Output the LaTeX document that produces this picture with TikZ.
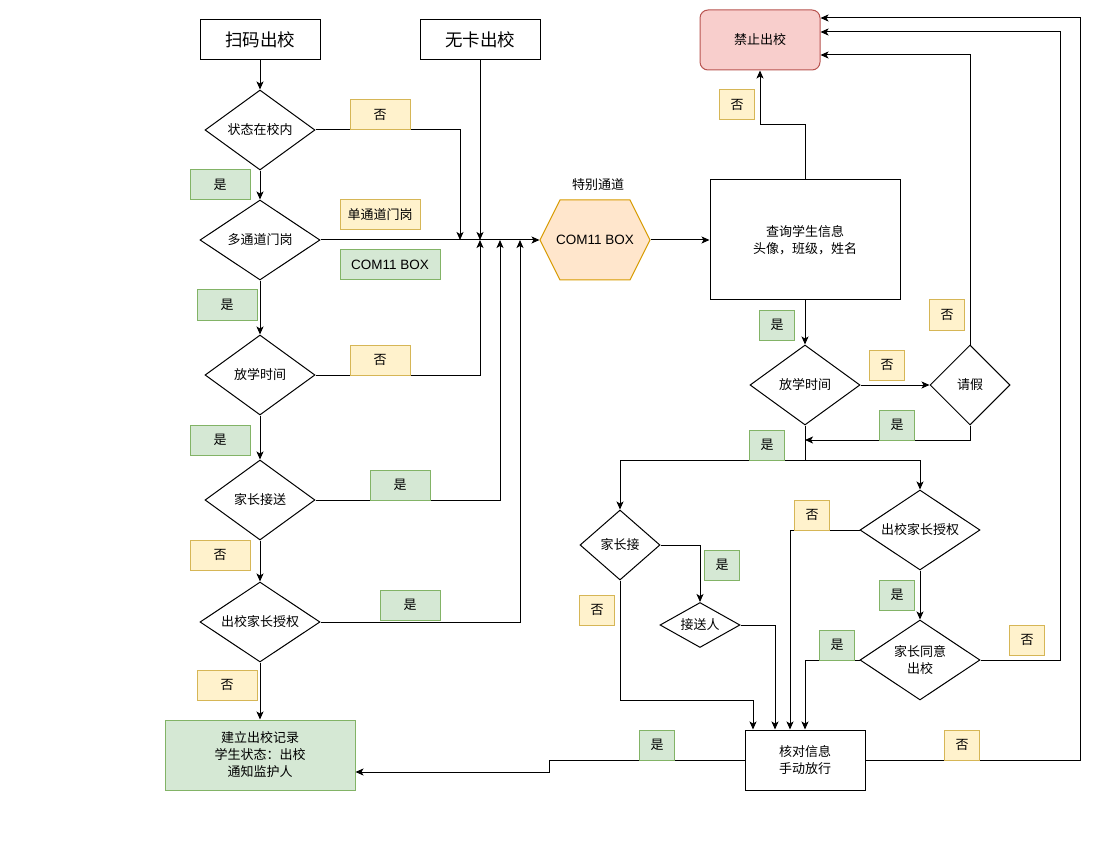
\documentclass[tikz,border=0pt]{standalone}
\usepackage{fontspec}
\setmainfont{Noto Sans CJK SC}
\newfontfamily\latinfont{Liberation Sans}
\usetikzlibrary{shapes.geometric,arrows.meta}
\definecolor{yfill}{HTML}{FFF2CC}
\definecolor{ydraw}{HTML}{D6B656}
\definecolor{gfill}{HTML}{D5E8D4}
\definecolor{gdraw}{HTML}{82B366}
\definecolor{ofill}{HTML}{FFE6CC}
\definecolor{odraw}{HTML}{D79B00}
\definecolor{rfill}{HTML}{F8CECC}
\definecolor{rdraw}{HTML}{B85450}
\begin{document}
\begin{tikzpicture}[x=1pt,y=-1pt,line width=1pt,
  every node/.style={font=\fontsize{13}{17}\selectfont,align=center,inner sep=0pt},
  proc/.style={draw,fill=white},
  dec/.style={draw,fill=white,diamond,shape aspect=1.5,inner sep=0pt},
  ylab/.style={draw=ydraw,fill=yfill,minimum height=30pt},
  glab/.style={draw=gdraw,fill=gfill,minimum height=30pt},
  arr/.style={-{Stealth[length=8pt,width=7pt,inset=2pt]}},
  big/.style={font=\fontsize{17.5}{20}\selectfont},
  latin/.style={font=\fontsize{13.5}{17}\latinfont}]
\useasboundingbox (0,0) rectangle (1100,850);

% left column
\node[proc,big,minimum width=120pt,minimum height=40pt] (scan) at (260,40) {扫码出校};
\node[proc,big,minimum width=120pt,minimum height=40pt] (nocard) at (480,40) {无卡出校};
\node[dec,minimum width=110pt,minimum height=80pt] (d1) at (260,130) {状态在校内};
\node[dec,minimum width=120pt,minimum height=80pt] (d2) at (260,240) {多通道门岗};
\node[dec,minimum width=110pt,minimum height=80pt] (d3) at (260,375) {放学时间};
\node[dec,minimum width=110pt,minimum height=80pt] (d4) at (260,500) {家长接送};
\node[dec,minimum width=120pt,minimum height=80pt] (d5) at (260,622) {出校家长授权};
\node[draw=gdraw,fill=gfill,minimum width=190pt,minimum height=70pt] (rec) at (260,755) {建立出校记录\\学生状态：出校\\通知监护人};

% hexagon
\node[minimum width=110pt,minimum height=80pt] (hex) at (595,240) {};
\draw[draw=odraw,fill=ofill] (540,240) -- (560,200) -- (630,200) -- (650,240) -- (630,280) -- (560,280) -- cycle;
\node[latin] (hextext) at (595,240) {COM11 BOX};
\node (hexlab) at (598,185) {特别通道};

% right part
\node[proc,minimum width=190pt,minimum height=120pt] (query) at (805,240) {查询学生信息\\头像，班级，姓名};
\node[draw=rdraw,fill=rfill,rounded corners=8pt,minimum width=120pt,minimum height=60pt] (forbid) at (760,40) {禁止出校};
\node[dec,minimum width=110pt,minimum height=80pt] (d6) at (805,385) {放学时间};
\node[dec,minimum width=80pt,minimum height=80pt] (leave) at (970,385) {请假};
\node[dec,minimum width=80pt,minimum height=70pt] (d7) at (620,545) {家长接};
\node[dec,minimum width=80pt,minimum height=45pt] (d8) at (700,625) {接送人};
\node[dec,minimum width=120pt,minimum height=80pt] (d9) at (920,530) {出校家长授权};
\node[dec,minimum width=120pt,minimum height=80pt] (d10) at (920,660) {家长同意\\出校};
\node[proc,minimum width=120pt,minimum height=60pt] (check) at (805,760) {核对信息\\手动放行};

% junction coordinates
\coordinate (j1) at (460,240);
\coordinate (j2) at (480,240);
\coordinate (j3) at (500,240);
\coordinate (j4) at (520,240);
\coordinate (j5) at (805,440);
\coordinate (j6) at (805,460);

% connectors left
\draw[arr] (scan) -- (d1);
\draw[arr] (d1) -- (d2);
\draw[arr] (d1.east) -| (j1);
\draw[arr] (nocard) -- (j2);
\draw[arr] (d2.east) -- (hex.west);
\draw[arr] (d2) -- (d3);
\draw[arr] (d3.east) -| (j2);
\draw[arr] (d3) -- (d4);
\draw[arr] (d4.east) -| (j3);
\draw[arr] (d4) -- (d5);
\draw[arr] (d5.east) -| (j4);
\draw[arr] (d5) -- (rec);

% connectors right
\draw[arr] (hex.east) -- (query.west);
\draw[arr] (query.north) -- ++(0,-55) -| (forbid.south);
\draw[arr] (query) -- (d6);
\draw[arr] (d6) -- (leave);
\draw[arr] (leave.north) |- ([yshift=-15pt]forbid.east);
\draw[arr] (leave.south) |- (j5);
\draw (d6.south) -- (j6);
\draw[arr] (j6) -| (d7.north);
\draw[arr] (j6) -| (d9.north);
\draw[arr] (d7.east) -| (d8.north);
\draw[arr] (d8.east) -| ([xshift=-30pt]check.north);
\draw[arr] (d7.south) -- ++(0,120) -| ([xshift=-52pt]check.north);
\draw[arr] (d9.west) -| ([xshift=-15pt]check.north);
\draw[arr] (d9) -- (d10);
\draw[arr] (d10.west) -| (check.north);
\draw[arr] (d10.east) -- ++(80,0) |- ([yshift=8pt]forbid.east);
\draw[arr] (check.east) -- ++(215,0) |- ([yshift=22pt]forbid.east);
\draw[arr] (check.west) -- ++(-195,0) |- ([yshift=-17pt]rec.east);

% labels left
\node[ylab,minimum width=60pt] (l1) at (380,115) {否};
\node[glab,minimum width=60pt] (l2) at (220,185) {是};
\node[ylab,minimum width=80pt] (l3) at (380,215) {单通道门岗};
\node[glab,latin,minimum width=100pt] (l4) at (390,265) {COM11 BOX};
\node[glab,minimum width=60pt] (l5) at (227,305) {是};
\node[ylab,minimum width=60pt] (l6) at (380,360) {否};
\node[glab,minimum width=60pt] (l7) at (220,440) {是};
\node[glab,minimum width=60pt] (l8) at (400,485) {是};
\node[ylab,minimum width=60pt] (l9) at (220,555) {否};
\node[glab,minimum width=60pt] (l10) at (410,605) {是};
\node[ylab,minimum width=60pt] (l11) at (227,685) {否};

% labels right
\node[ylab,minimum width=35pt] (l12) at (737,105) {否};
\node[glab,minimum width=35pt] (l13) at (777,325) {是};
\node[ylab,minimum width=35pt] (l14) at (887,365) {否};
\node[ylab,minimum width=35pt] (l15) at (947,315) {否};
\node[glab,minimum width=35pt] (l16) at (897,425) {是};
\node[glab,minimum width=35pt] (l17) at (767,445) {是};
\node[glab,minimum width=35pt] (l18) at (722,565) {是};
\node[ylab,minimum width=35pt] (l19) at (597,610) {否};
\node[ylab,minimum width=35pt] (l20) at (812,515) {否};
\node[glab,minimum width=35pt] (l21) at (897,595) {是};
\node[glab,minimum width=35pt] (l22) at (837,645) {是};
\node[ylab,minimum width=35pt] (l23) at (1027,640) {否};
\node[glab,minimum width=35pt] (l24) at (657,745) {是};
\node[ylab,minimum width=35pt] (l25) at (962,745) {否};
\end{tikzpicture}
\end{document}
